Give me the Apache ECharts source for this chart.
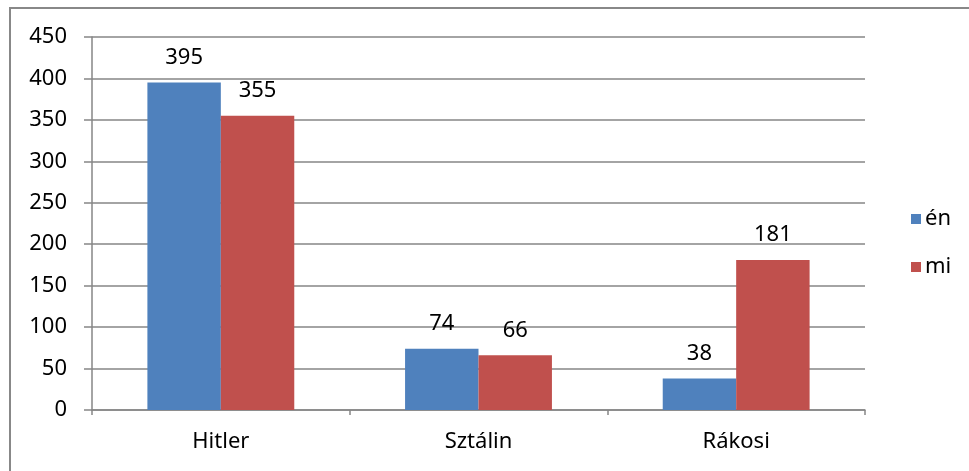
<!DOCTYPE html>
<html>
<head>
<meta charset="utf-8">
<script src="https://cdn.jsdelivr.net/npm/echarts@6/dist/echarts.min.js"></script>
<style>html,body{margin:0;padding:0;background:#fff;}#c{width:969px;height:471px;}</style>
</head>
<body>
<div id="c"></div>
<script>
var categories = ['Hitler', 'Sztálin', 'Rákosi'];
var enValues = [395, 74, 38];
var miValues = [355, 66, 181];
var yTicks = [0, 50, 100, 150, 200, 250, 300, 350, 400, 450];

var chart = echarts.init(document.getElementById('c'), null, {renderer: 'canvas'});
var font = "'Noto Sans', 'Liberation Sans', sans-serif";
var labelStyle = {show: true, position: 'top', distance: 14, color: '#000', fontSize: 22, fontFamily: font};
chart.setOption({
  animation: false,
  backgroundColor: '#fff',
  graphic: [{
    type: 'rect', shape: {x: 10, y: 8, width: 1000, height: 500},
    style: {fill: 'none', stroke: '#888', lineWidth: 2}, silent: true, z: 100
  }],
  grid: {left: 92, right: 104, top: 37, bottom: 61, containLabel: false},
  legend: {
    orient: 'vertical', left: 906, top: 203, itemGap: 26, itemWidth: 10, itemHeight: 10,
    icon: 'rect', textStyle: {fontSize: 22, fontFamily: font, color: '#000', padding: [0, 0, 0, -1]},
    data: ['én', 'mi']
  },
  xAxis: {
    type: 'category', data: categories,
    axisLine: {lineStyle: {color: '#868686', width: 1.5}},
    axisTick: {show: true, alignWithLabel: false, length: 5, lineStyle: {color: '#868686', width: 1.5}},
    axisLabel: {margin: 21, fontSize: 22, fontFamily: font, color: '#000'}
  },
  yAxis: {
    type: 'value', min: 0, max: 450, interval: 50,
    axisLine: {show: true, lineStyle: {color: '#868686', width: 1.5}},
    axisTick: {show: true, inside: false, length: 8, lineStyle: {color: '#868686', width: 1.5}},
    splitLine: {lineStyle: {color: '#868686', width: 1.5}},
    axisLabel: {margin: 25, fontSize: 22, fontFamily: font, color: '#000',
      formatter: function (v) { return yTicks.indexOf(v) >= 0 ? String(v) : ''; }}
  },
  series: [
    {name: 'én', type: 'bar', data: enValues, barGap: '0%', barCategoryGap: '43%',
     itemStyle: {color: '#4F81BD'}, label: labelStyle},
    {name: 'mi', type: 'bar', data: miValues, barGap: '0%', barCategoryGap: '43%',
     itemStyle: {color: '#C0504D'}, label: labelStyle}
  ]
});
</script>
</body>
</html>
